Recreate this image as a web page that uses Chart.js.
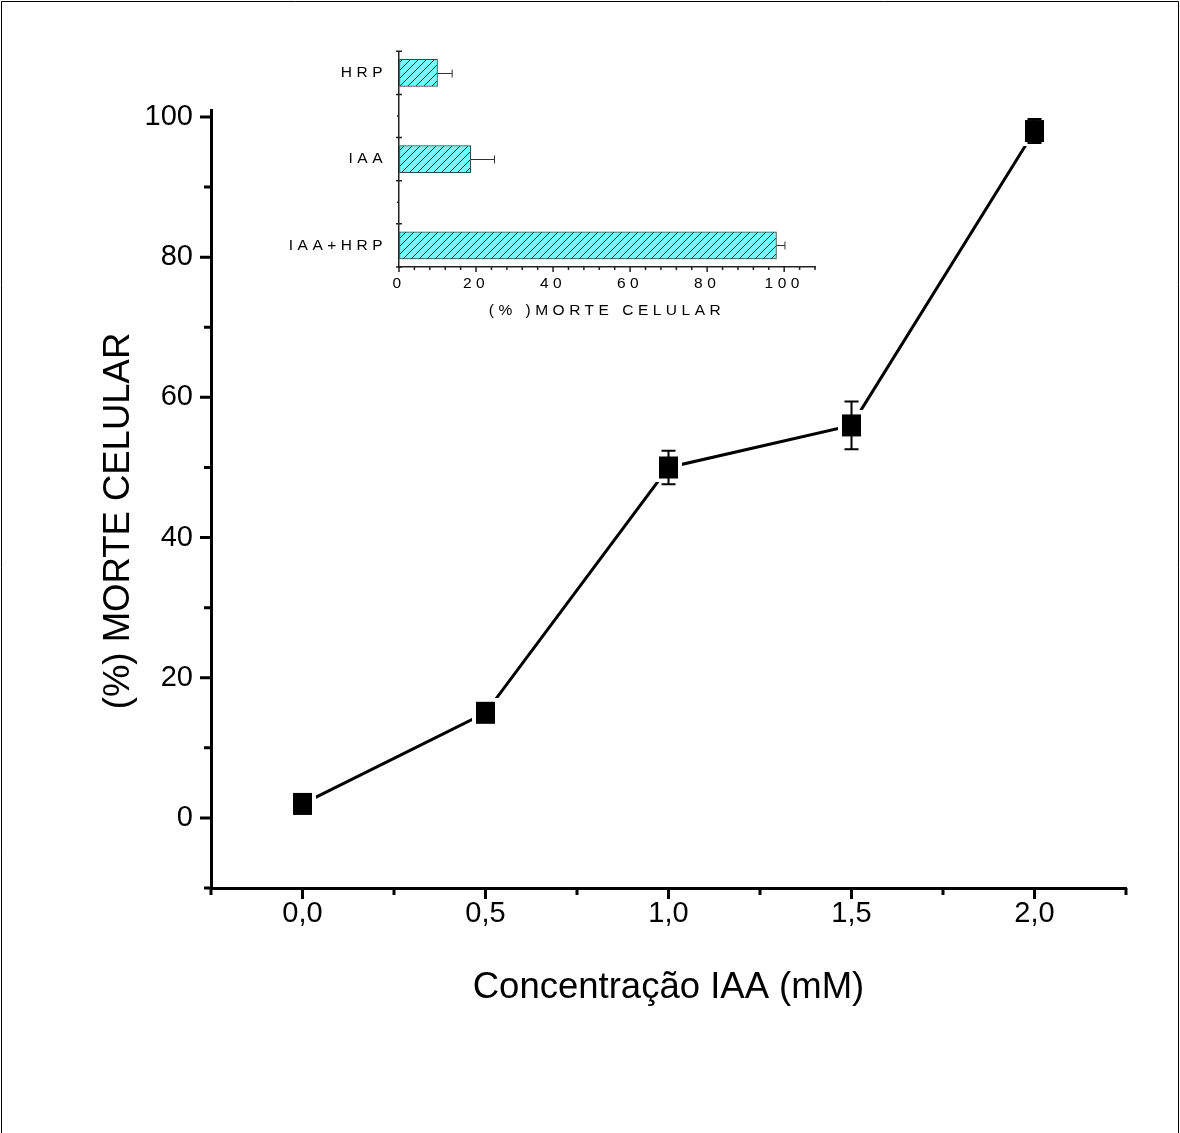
<!DOCTYPE html>
<html>
<head>
<meta charset="utf-8">
<script src="https://cdn.jsdelivr.net/npm/chart.js@4.4.1/dist/chart.umd.min.js"></script>
<style>
  html, body { margin: 0; padding: 0; background: #fff; }
  #wrap { position: relative; width: 1180px; height: 1133px; }
  #main { position: absolute; left: 0; top: 0; }
  #inset { position: absolute; left: 280px; top: 30px; }
</style>
</head>
<body>
<div id="wrap">
  <canvas id="main" width="1180" height="1133"></canvas>
  <canvas id="inset" width="560" height="300"></canvas>
</div>
<script>
// curva principal
const concentracao = [0, 0.5, 1.0, 1.5, 2.0];
const morte = [2, 15, 50, 56, 98];
const erroMorte = [1, 1, 2.4, 3.4, 1.7];
const xTicks = [0, 0.5, 1.0, 1.5, 2.0];
const xTicksMenores = [-0.25, 0.25, 0.75, 1.25, 1.75, 2.25];
const yTicks = [0, 20, 40, 60, 80, 100];
const yTicksMenores = [-10, 10, 30, 50, 70, 90];
const tituloX = "Concentração IAA (mM)";
const tituloEixoY = "(%) MORTE CELULAR";

// grafico pequeno (inserido)
const tratamentos = ["HRP", "IAA", "IAA+HRP"];
const morteTrat = [10, 18.6, 98];
const erroTrat = [3.8, 6.2, 2.2];
const insetXTicks = [0, 20, 40, 60, 80, 100];
const insetXMenores = [4, 8, 12, 16, 24, 28, 32, 36, 44, 48, 52, 56, 64, 68, 72, 76, 84, 88, 92, 96, 104, 108];
const insetYTicks = [-0.25, 0.25, 0.75, 1.25, 1.75, 2.25];
const insetYMenores = [0.5, 1.5];

const fonte = "'Liberation Sans', Arial, sans-serif";
Chart.defaults.font.family = fonte;
Chart.defaults.color = "#000";

// marcas dos eixos estilo Origin
function marcas(lista) {
  return {
    id: "marcas",
    afterDraw(chart) {
      const ctx = chart.ctx;
      const area = chart.chartArea;
      ctx.save();
      ctx.lineCap = "butt";
      lista.forEach(function (m) {
        const s = chart.scales[m.eixo];
        ctx.strokeStyle = m.cor;
        ctx.lineWidth = m.largura;
        ctx.beginPath();
        m.valores.forEach(function (v) {
          const p = s.getPixelForValue(v);
          if (s.isHorizontal()) {
            ctx.moveTo(p, area.bottom - m.dentro);
            ctx.lineTo(p, area.bottom + m.fora);
          } else {
            ctx.moveTo(area.left + m.dentro, p);
            ctx.lineTo(area.left - m.fora, p);
          }
        });
        ctx.stroke();
      });
      ctx.restore();
    },
  };
}

function marcador() {
  const c = document.createElement("canvas");
  c.width = 27;
  c.height = 30;
  const g = c.getContext("2d");
  g.fillStyle = "#fff";
  g.fillRect(0, 0, 27, 30);
  g.fillStyle = "#000";
  g.fillRect(4, 4, 19, 22);
  return c;
}

function hachura() {
  const c = document.createElement("canvas");
  c.width = 8;
  c.height = 8;
  const g = c.getContext("2d");
  g.fillStyle = "#74fbfb";
  g.fillRect(0, 0, 8, 8);
  g.strokeStyle = "#1a3838";
  g.lineWidth = 1;
  g.beginPath();
  g.moveTo(0, 8); g.lineTo(8, 0);
  g.moveTo(-1, 1); g.lineTo(1, -1);
  g.moveTo(7, 9); g.lineTo(9, 7);
  g.stroke();
  return g.createPattern(c, "repeat");
}

const barrasErro = {
  id: "barrasErro",
  afterDatasetsDraw(chart) {
    const x = chart.scales.x, y = chart.scales.y, ctx = chart.ctx;
    ctx.save();
    ctx.strokeStyle = "#000";
    ctx.lineWidth = 2;
    concentracao.forEach(function (c, i) {
      const px = x.getPixelForValue(c);
      const y1 = y.getPixelForValue(morte[i] + erroMorte[i]);
      const y2 = y.getPixelForValue(morte[i] - erroMorte[i]);
      ctx.beginPath();
      ctx.moveTo(px, y1); ctx.lineTo(px, y2);
      ctx.moveTo(px - 7, y1); ctx.lineTo(px + 7, y1);
      ctx.moveTo(px - 7, y2); ctx.lineTo(px + 7, y2);
      ctx.stroke();
    });
    ctx.restore();
  },
};

// titulo do eixo y (um pouco abaixo do centro, como no original)
const tituloY = {
  id: "tituloY",
  afterDraw(chart) {
    const ctx = chart.ctx;
    ctx.save();
    ctx.translate(119, 521);
    ctx.rotate(-Math.PI / 2);
    ctx.font = "36.5px " + fonte;
    ctx.textAlign = "center";
    ctx.textBaseline = "middle";
    ctx.fillStyle = "#000";
    ctx.fillText(tituloEixoY, 0, 0);
    ctx.restore();
  },
};

const moldura = {
  id: "moldura",
  afterDraw(chart) {
    const ctx = chart.ctx;
    ctx.save();
    ctx.strokeStyle = "#000";
    ctx.lineWidth = 1;
    ctx.beginPath();
    ctx.moveTo(1.5, 1133);
    ctx.lineTo(1.5, 1.5);
    ctx.lineTo(1178.5, 1.5);
    ctx.lineTo(1178.5, 1133);
    ctx.stroke();
    ctx.restore();
  },
};

const perto = (lista, v) => lista.some((t) => Math.abs(t - v) < 1e-6);

new Chart(document.getElementById("main"), {
  type: "line",
  data: {
    datasets: [
      {
        data: concentracao.map((c, i) => ({ x: c, y: morte[i] })),
        borderColor: "#000",
        borderWidth: 3,
        pointStyle: marcador(),
        pointRadius: 12,
        tension: 0,
      },
    ],
  },
  options: {
    responsive: false,
    animation: false,
    events: [],
    layout: { padding: { left: 98, top: 110, right: 54, bottom: 123 } },
    plugins: { legend: { display: false }, tooltip: { enabled: false } },
    scales: {
      x: {
        type: "linear",
        min: -0.25,
        max: 2.25,
        afterFit: function (s) { s.height = 122; },
        grid: { drawOnChartArea: false, drawTicks: false },
        border: { color: "#000", width: 3 },
        ticks: {
          stepSize: 0.25,
          includeBounds: false,
          autoSkip: false,
          maxRotation: 0,
          padding: 9,
          font: { size: 29 },
          color: "#000",
          callback: function (v) {
            return perto(xTicks, v) ? v.toFixed(1).replace(".", ",") : "";
          },
        },
        title: { display: true, text: tituloX, font: { size: 36.5 }, padding: 0, color: "#000" },
      },
      y: {
        type: "linear",
        min: -10,
        max: 101,
        afterFit: function (s) { s.width = 113; },
        grid: { drawOnChartArea: false, drawTicks: false },
        border: { color: "#000", width: 3 },
        ticks: {
          stepSize: 10,
          includeBounds: false,
          autoSkip: false,
          padding: 18,
          font: { size: 29 },
          color: "#000",
          callback: function (v) {
            return perto(yTicks, v) ? String(Math.round(v)) : "";
          },
        },
      },
    },
  },
  plugins: [
    marcas([
      { eixo: "x", valores: xTicks, fora: 11, dentro: 0, largura: 3, cor: "#000" },
      { eixo: "x", valores: xTicksMenores, fora: 7, dentro: 0, largura: 3, cor: "#000" },
      { eixo: "y", valores: yTicks, fora: 11, dentro: 0, largura: 3, cor: "#000" },
      { eixo: "y", valores: yTicksMenores, fora: 7, dentro: 0, largura: 3, cor: "#000" },
    ]),
    barrasErro,
    tituloY,
    moldura,
  ],
});

// grafico inserido
const espacamento = {
  id: "espacamento",
  beforeLayout(chart) { chart.ctx.letterSpacing = "4.5px"; },
  beforeDraw(chart) { chart.ctx.letterSpacing = "4.5px"; },
};

const errosInset = {
  id: "errosInset",
  afterDatasetsDraw(chart) {
    const x = chart.scales.x, y = chart.scales.y, ctx = chart.ctx;
    ctx.save();
    ctx.strokeStyle = "#333";
    ctx.lineWidth = 1;
    morteTrat.forEach(function (v, i) {
      const py = Math.round(y.getPixelForValue(i)) + 0.5;
      const x1 = x.getPixelForValue(v);
      const x2 = x.getPixelForValue(v + erroTrat[i]);
      ctx.beginPath();
      ctx.moveTo(x1, py); ctx.lineTo(x2, py);
      ctx.moveTo(x2, py - 4); ctx.lineTo(x2, py + 4);
      ctx.stroke();
    });
    ctx.restore();
  },
};

new Chart(document.getElementById("inset"), {
  type: "bar",
  data: {
    datasets: [
      {
        data: tratamentos.map((t, i) => ({ x: morteTrat[i], y: i })),
        backgroundColor: hachura(),
        borderColor: "#2b4b4b",
        borderWidth: 1,
        borderSkipped: false,
        barThickness: 27,
      },
    ],
  },
  options: {
    indexAxis: "y",
    responsive: false,
    animation: false,
    events: [],
    layout: { padding: { left: 0, top: 17, right: 25, bottom: 10 } },
    plugins: { legend: { display: false }, tooltip: { enabled: false } },
    scales: {
      x: {
        type: "linear",
        min: 0,
        max: 108,
        afterFit: function (s) { s.height = 53; },
        grid: { drawOnChartArea: false, drawTicks: false },
        border: { color: "#222", width: 1.5 },
        ticks: {
          stepSize: 20,
          includeBounds: false,
          autoSkip: false,
          maxRotation: 0,
          padding: 7,
          font: { size: 15.5 },
          color: "#000",
        },
        title: { display: true, text: "(% )MORTE CELULAR", font: { size: 15.5 }, padding: 0, color: "#000" },
      },
      y: {
        type: "linear",
        reverse: true,
        offset: false,
        min: -0.25,
        max: 2.25,
        afterFit: function (s) { s.width = 119; },
        grid: { offset: false, drawOnChartArea: false, drawTicks: false },
        border: { color: "#222", width: 1.5 },
        ticks: {
          stepSize: 0.25,
          includeBounds: false,
          autoSkip: false,
          padding: 12,
          font: { size: 15.5 },
          color: "#000",
          callback: function (v) {
            const i = Math.round(v);
            return Math.abs(v - i) < 1e-6 && tratamentos[i] ? tratamentos[i] : "";
          },
        },
      },
    },
  },
  plugins: [
    espacamento,
    marcas([
      { eixo: "x", valores: insetXTicks, fora: 5, dentro: 0, largura: 1.5, cor: "#222" },
      { eixo: "x", valores: insetXMenores, fora: 3, dentro: 1, largura: 1.5, cor: "#222" },
      { eixo: "y", valores: insetYTicks, fora: 3, dentro: 3, largura: 1.5, cor: "#222" },
      { eixo: "y", valores: insetYMenores, fora: 2, dentro: 0, largura: 1.5, cor: "#222" },
    ]),
    errosInset,
  ],
});
</script>
</body>
</html>
